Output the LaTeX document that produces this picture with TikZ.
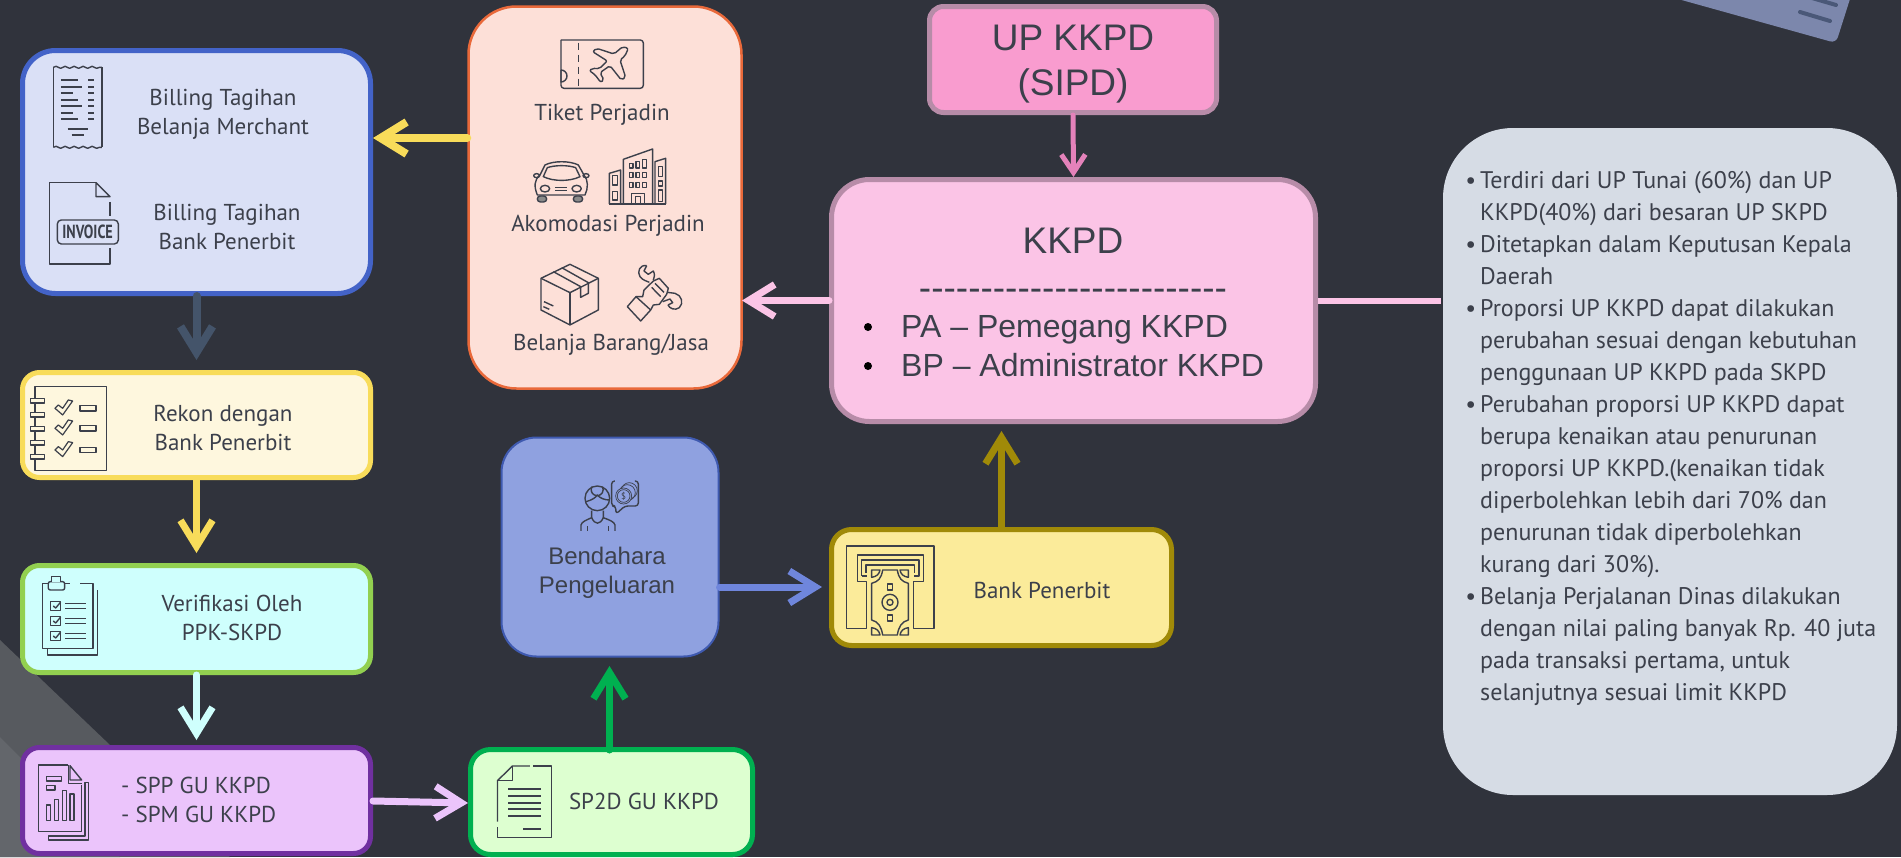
\documentclass[tikz,border=0pt]{standalone}
\usepackage{fontspec}
\setmainfont{PT Sans}
\newfontfamily\arialfont{Liberation Sans}[Ligatures=NoCommon]
\usepackage{tikz}
\usetikzlibrary{arrows.meta,decorations.pathmorphing}

\definecolor{col_bg}{HTML}{30333C}
\definecolor{col_text}{HTML}{3C404B}
\definecolor{col_pink}{HTML}{FBC4E6}
\definecolor{col_band}{HTML}{575A5F}
\definecolor{col_bandb}{HTML}{63666B}
\definecolor{col_card}{HTML}{7C87AC}
\definecolor{col_cardline}{HTML}{4A5878}
\definecolor{col_note}{HTML}{D6DCE5}
\definecolor{col_blue}{HTML}{4363C8}
\definecolor{col_bluef}{HTML}{DAE0F6}
\definecolor{col_yellow}{HTML}{F8DC5A}
\definecolor{col_yellowf}{HTML}{FEF7DE}
\definecolor{col_lime}{HTML}{92D050}
\definecolor{col_cyan}{HTML}{CFFFFD}
\definecolor{col_purple}{HTML}{7030A0}
\definecolor{col_purplef}{HTML}{EBC4FB}
\definecolor{col_green}{HTML}{00B050}
\definecolor{col_greenf}{HTML}{DDFFD0}
\definecolor{col_indigo}{HTML}{3F5AB0}
\definecolor{col_indigof}{HTML}{8FA1E0}
\definecolor{col_orange}{HTML}{E9693A}
\definecolor{col_orangef}{HTML}{FDE0D8}
\definecolor{col_olive}{HTML}{A08A08}
\definecolor{col_olivef}{HTML}{FBEB9A}
\definecolor{col_mauve}{HTML}{B78CA8}
\definecolor{col_rose}{HTML}{F99CCF}
\definecolor{col_slate}{HTML}{44546A}
\definecolor{col_bluea}{HTML}{6F86DC}
\definecolor{col_rosea}{HTML}{E482BA}
\definecolor{col_tyre}{HTML}{8A8A8A}
\newcommand{\noteb}{\llap{\textbullet\hspace{4pt}}}

\begin{document}
\begin{tikzpicture}[x=1pt, y=-1pt,
		node_style/.style={rectangle,minimum width=348pt,minimum height=106pt,rounded corners=17pt,line width=5pt,inner sep=0pt},
		text_style/.style={text=col_text,inner sep=0pt,align=center,font=\fontsize{23}{29}\selectfont},
		arial_style/.style={text=col_text,inner sep=0pt,align=center,font=\arialfont\fontsize{24}{29}\selectfont},
		edge_style/.style={draw=#1,line cap=round,line join=miter,-{Straight Barb[length=26pt,width=32pt]}},
		icon_style/.style={draw=col_text,line width=1.4pt,line join=round},
		zoom_a/.style={shift={(460,0)},x=.3333pt,y=-.3333pt},
		zoom_b/.style={shift={(0,30)},x=.3333pt,y=-.3333pt},
		zoom_c/.style={shift={(480,420)},x=.3333pt,y=-.3333pt},
		zoom_d/.style={shift={(820,420)},x=.3333pt,y=-.3333pt}]

		\useasboundingbox (0,0) rectangle (1901,857);
		\fill[col_bg] (0,0) rectangle (1901,857);
		\fill[col_band] (0,640) -- (110,745) -- (230,857) -- (0,857) -- cycle;
		\fill[col_bandb] (0,737) -- (120,857) -- (0,857) -- cycle;
		\fill[col_card, rounded corners=6pt] (1660,-6) -- (1836,43) -- (1856,-20) -- (1660,-20) -- cycle;
		\draw[col_cardline, line width=4pt, line cap=round] (1800,12) -- (1830,21);
		\draw[col_cardline, line width=4pt, line cap=round] (1812,-2) -- (1836,5);

		% connectors first, the boxes lie over their ends
		\coordinate (c0) at (0,138);
		\coordinate (c1) at (0,300.5);
		\node[node_style,minimum width=454pt,minimum height=667pt,rounded corners=70pt,fill=col_note] (n12) at (1670,461.5) {};

		\node[node_style,minimum height=243pt,rounded corners=33pt,draw=col_blue,fill=col_bluef] (n0) at (196.5,172) {};
		\node[node_style,minimum height=105pt,draw=col_yellow,fill=col_yellowf] (n1) at (196.5,425) {};
		\node[node_style,minimum height=107pt,draw=col_lime,fill=col_cyan] (n2) at (196.5,619) {};
		\node[node_style,draw=col_purple,fill=col_purplef] (n3) at (196.5,800.5) {};
		\node[node_style,minimum width=282pt,minimum height=105pt,rounded corners=20pt,draw=col_green,fill=col_greenf] (n4) at (611.5,802) {};
		\node[node_style,minimum width=217pt,minimum height=219pt,rounded corners=35pt,line width=2pt,draw=col_indigo,fill=col_indigof] (n5) at (610,547) {};
		\node[node_style,minimum width=273pt,minimum height=382pt,rounded corners=48pt,line width=2.5pt,draw=col_orange,fill=col_orangef] (n6) at (605,197.5) {};
		\node[node_style,minimum width=340pt,minimum height=116pt,rounded corners=20pt,draw=col_olive,fill=col_olivef] (n7) at (1001.5,587.5) {};
		\node[node_style,minimum width=484pt,minimum height=242pt,rounded corners=38pt,draw=col_mauve,fill=col_pink] (n8) at (1073.5,300.5) {};
		\node[node_style,minimum width=287pt,minimum height=106pt,rounded corners=14pt,draw=col_mauve,fill=col_rose] (n9) at (1073,59.5) {};

		\draw[edge_style=col_yellow,line width=8pt] (n6.west |- c0) -- (373,138);
		\draw[edge_style=col_slate,line width=8pt] (n0.south) -- (196.5,360);
		\draw[edge_style=col_yellow,line width=7pt] (n1.south) -- (196.5,553);
		\draw[edge_style=col_cyan,line width=7pt] (n2.south) -- (196.5,740);
		\draw[edge_style=col_purplef,line width=7pt] (n3.east |- 0,801) -- (n4.west |- 0,803);
		\draw[edge_style=col_green,line width=7pt] (609.5,750) -- (609.5,666);
		\draw[edge_style=col_bluea,line width=7pt] (n5.east |- 0,587) -- (822,587);
		\draw[edge_style=col_olive,line width=7pt] (n7.north) -- (1001.5,431);
		\draw[edge_style=col_pink,line width=7pt] (n8.west |- c1) -- (742,300.5);
		\draw[edge_style=col_rosea,line width=5pt,-{Straight Barb[length=18pt,width=24pt]}] (n9.south) -- (n8.north);
		\draw[draw=col_pink,line width=6pt] (n8.east |- c1) -- (n12.west |- c1);

		% texts
		\node[text_style] (t0) at (223,114) {Billing Tagihan\\Belanja Merchant};
		\node[text_style] (t1) at (227,226.5) {Billing Tagihan\\Bank Penerbit};
		\node[text_style] (t2) at (223,428) {Rekon dengan\\Bank Penerbit};
		\node[text_style] (t3) at (232,618) {Verifikasi Oleh\\PPK-SKPD};
		\node[text_style,align=left,anchor=west] (t4) at (121,800) {- SPP GU KKPD\\- SPM GU KKPD};
		\node[text_style] (t5) at (644,801) {SP2D GU KKPD};
		\node[text_style] (t6) at (602,114.5) {Tiket Perjadin};
		\node[text_style] (t7) at (608,226) {Akomodasi Perjadin};
		\node[text_style] (t8) at (611,344.5) {Belanja Barang/Jasa};
		\node[arial_style] (t9) at (607,573) {Bendahara\\Pengeluaran};
		\node[text_style] (t10) at (1042,590) {Bank Penerbit};
		\node[arial_style,font=\arialfont\fontsize{37}{45}\selectfont] (t11) at (1073,64) {UP KKPD\\(SIPD)};
		\node[arial_style,font=\arialfont\fontsize{37}{37}\selectfont] (t12) at (1073,241) {KKPD};
		\node[arial_style,font=\arialfont\fontsize{37}{37}\selectfont] (t13) at (1073,295) {{-}{-}{-}{-}{-}{-}{-}{-}{-}{-}{-}{-}{-}{-}{-}{-}{-}{-}{-}{-}{-}{-}{-}{-}{-}};
		\node[arial_style,anchor=west,align=left,font=\arialfont\fontsize{32}{39}\selectfont] (t14) at (901,346.5) {PA – Pemegang KKPD\\BP – Administrator KKPD};
		\node[fill=black,circle,inner sep=0pt,minimum size=8pt] (b0) at (868,327) {};
		\node[fill=black,circle,inner sep=0pt,minimum size=8pt] (b1) at (868,366) {};
		\node[text_style,anchor=north west,align=left,font=\fontsize{24}{32}\selectfont] (t15) at (1480,171) {\noteb Terdiri dari UP Tunai (60\%) dan UP\\
			KKPD(40\%) dari besaran UP SKPD\\
			\noteb Ditetapkan dalam Keputusan Kepala\\
			Daerah\\
			\noteb Proporsi UP KKPD dapat dilakukan\\
			perubahan sesuai dengan kebutuhan\\
			penggunaan UP KKPD pada SKPD\\
			\noteb Perubahan proporsi UP KKPD dapat\\
			berupa kenaikan atau penurunan\\
			proporsi UP KKPD.(kenaikan tidak\\
			diperbolehkan lebih dari 70\% dan\\
			penurunan tidak diperbolehkan\\
			kurang dari 30\%).\\
			\noteb Belanja Perjalanan Dinas dilakukan\\
			dengan nilai paling banyak Rp. 40 juta\\
			pada transaksi pertama, untuk\\
			selanjutnya sesuai limit KKPD};

		% receipt
		\begin{scope}[zoom_b]
			\draw[icon_style,decorate,decoration={snake,amplitude=1pt,segment length=9pt}] (160,112) -- (306,112);
			\draw[icon_style,decorate,decoration={snake,amplitude=1pt,segment length=9pt}] (160,352) -- (306,352);
			\draw[icon_style] (160,112) -- (160,352);
			\draw[icon_style] (306,112) -- (306,352);
			\foreach \y/\e in {150/233,170/245,190/220,210/233,229/247,249/220,268/233} {
				\draw[icon_style,line width=2pt] (183,\y) -- (\e,\y);
				\draw[icon_style,line width=2pt] (265,\y) -- (282,\y);
			}
			\draw[icon_style,line width=2pt] (203,296) -- (264,296);
			\draw[icon_style,line width=2pt] (215,316) -- (252,316);
		\end{scope}
		% invoice
		\begin{scope}[zoom_b]
			\draw[icon_style] (288,458) -- (148,458) -- (148,702) -- (330,702) -- (330,655);
			\draw[icon_style] (330,516) -- (330,558);
			\draw[icon_style] (288,458) -- (330,500) -- (288,500) -- cycle;
			\draw[icon_style,rounded corners=4pt] (172,570) rectangle (355,642);
			\node[inner sep=0pt,text=col_text,xscale=.75,font=\bfseries\fontsize{19}{19}\selectfont] (i0) at (263,606) {INVOICE};
		\end{scope}
		% checklist
		\begin{scope}[zoom_b]
			\draw[icon_style] (105,1070) rectangle (320,1322);
			\foreach \y in {1112,1154,1196,1238,1280} {
				\draw[icon_style,fill=col_yellowf] (92,\y-7) rectangle (133,\y+7);
			}
			\foreach \y in {1135,1195,1260} {
				\draw[icon_style,line width=1.2pt] (165,\y) -- (188,\y+20) -- (218,\y-22) -- (205,\y-25) -- (188,\y) -- (175,\y-10) -- cycle;
				\draw[icon_style] (240,\y-8) rectangle (288,\y+8);
			}
		\end{scope}
		% clipboard
		\begin{scope}[shift={(0,540)},x=.4975pt,y=-.3333pt]
			\draw[icon_style] (97,130) -- (85,130) -- (85,325) -- (187,325) -- (187,130) -- (160,130);
			\draw[icon_style] (140,130) -- (130,130);
			\draw[icon_style,fill=col_cyan,rounded corners=2pt] (97,125) rectangle (130,150);
			\draw[icon_style,fill=col_cyan] (104,125) -- (104,110) -- (122,110) -- (122,125);
			\draw[icon_style] (196,150) -- (196,345) -- (95,345) -- (95,325);
			\foreach \y in {198,243,288} {
				\draw[icon_style] (101,\y-14) rectangle (122,\y+14);
				\draw[icon_style] (107,\y) -- (112,\y+6) -- (122,\y-12);
				\draw[icon_style] (131,\y-7) -- (172,\y-7);
				\draw[icon_style] (131,\y+7) -- (172,\y+7);
			}
		\end{scope}
		% report
		\begin{scope}[shift={(0,620)},x=.3333pt,y=-.3333pt]
			\draw[icon_style] (205,435) -- (115,435) -- (115,635) -- (245,635) -- (245,495);
			\draw[icon_style] (205,435) -- (205,490) -- (245,490);
			\draw[icon_style] (210,437) -- (245,480) -- (210,480) -- cycle;
			\draw[icon_style] (265,488) -- (265,660) -- (145,660) -- (145,648) -- (255,648) -- (255,488) -- cycle;
			\draw[icon_style] (140,470) rectangle (185,483);
			\draw[icon_style] (140,497) rectangle (165,510);
			\foreach \x/\t in {140/555,163/538,187/512,210/522} {
				\draw[icon_style] (\x,\t) rectangle (\x+12,602);
			}
		\end{scope}
		% document
		\begin{scope}[shift={(0,540)},x=.4975pt,y=-.3333pt]
			\draw[icon_style] (1065,678) -- (1030,678) -- (1000,722) -- (1000,845);
			\draw[icon_style] (1030,678) -- (1030,722) -- (1000,722);
			\draw[icon_style] (1072,678) -- (1108,678) -- (1108,893) -- (1000,893) -- (1000,860);
			\foreach \y in {748,768,788,808,828} {
				\draw[icon_style,line width=1.8pt] (1022,\y) -- (1087,\y);
			}
			\draw[icon_style,line width=1.8pt] (1052,866) -- (1087,866);
		\end{scope}
		% ticket, plane
		\begin{scope}[zoom_a]
			\draw[icon_style,rounded corners=3pt] (303,120) -- (550,120) -- (550,265) -- (303,265) -- (303,210);
			\draw[icon_style] (303,210) arc[start angle=-90,end angle=90,radius=18] -- (303,120);
			\draw[icon_style,dashed,dash pattern=on 7pt off 5pt,line width=1.6pt] (355,128) -- (355,262);
			\draw[icon_style,rounded corners=2pt] (505,145) -- (495,168) -- (480,180) -- (497,232) -- (484,240) -- (450,197) -- (420,218) -- (432,240) -- (422,247) -- (405,224) -- (388,212) -- (397,205) -- (418,206) -- (442,183) -- (398,155) -- (410,145) -- (462,162) -- (488,140) -- cycle;
		\end{scope}
		% car, building
		\begin{scope}[zoom_a]
			\draw[icon_style] (232,585) .. controls (222,560) and (222,540) .. (240,525) -- (255,495) .. controls (280,482) and (330,482) .. (355,495) -- (372,525) .. controls (385,540) and (385,565) .. (375,585) -- cycle;
			\draw[icon_style] (250,530) -- (262,503) .. controls (285,495) and (325,495) .. (347,503) -- (360,530) .. controls (330,545) and (280,545) .. (250,530) -- cycle;
			\draw[icon_style] (230,527) ellipse[x radius=9,y radius=6];
			\draw[icon_style] (378,527) ellipse[x radius=9,y radius=6];
			\draw[icon_style] (255,566) ellipse[x radius=14,y radius=10];
			\draw[icon_style] (350,566) ellipse[x radius=14,y radius=10];
			\draw[icon_style] (285,563) -- (322,563);
			\draw[icon_style] (285,572) -- (322,572);
			\draw[icon_style,rounded corners=3pt,fill=col_tyre] (232,588) rectangle (260,606);
			\draw[icon_style,rounded corners=3pt,fill=col_tyre] (340,588) rectangle (368,606);
			\draw[icon_style] (490,612) -- (490,478) -- (578,447) -- (578,612);
			\draw[icon_style] (448,612) -- (448,520) -- (482,510) -- (482,612);
			\draw[icon_style] (585,612) -- (585,485) -- (617,475) -- (617,612);
			\draw[icon_style] (448,612) -- (617,612);
			\foreach \x in {508,528,548} {
				\foreach \y in {518,548} {
					\draw[icon_style] (\x,\y) rectangle (\x+11,\y+14);
				}
			}
			\draw[icon_style] (508,490) rectangle (519,504);
			\draw[icon_style] (528,484) rectangle (539,504);
			\draw[icon_style] (548,478) rectangle (559,504);
			\draw[icon_style] (515,612) -- (515,580) -- (553,580) -- (553,612);
			\draw[icon_style] (527,612) -- (527,590) -- (541,590) -- (541,612);
			\draw[icon_style] (458,527) rectangle (472,555);
			\draw[icon_style] (458,575) rectangle (472,600);
			\draw[icon_style] (596,500) rectangle (608,530);
			\draw[icon_style] (596,543) rectangle (608,558);
			\draw[icon_style] (596,570) rectangle (608,605);
		\end{scope}
		% box
		\begin{scope}[zoom_a]
			\draw[icon_style] (243,835) -- (330,793) -- (415,835) -- (415,930) -- (330,975) -- (243,930) -- cycle;
			\draw[icon_style] (243,835) -- (330,878) -- (415,835);
			\draw[icon_style] (330,878) -- (330,975);
			\draw[icon_style] (280,815) -- (362,860) -- (362,892) -- (385,880) -- (385,848) -- (305,803);
			\draw[icon_style] (252,905) -- (280,918);
			\draw[icon_style] (250,920) -- (268,928);
		\end{scope}
		% wrench
		\begin{scope}[shift={(620,255)},x=.3333pt,y=-.3333pt]
			\draw[icon_style] (22,155) -- (48,125) -- (92,165) -- (62,198) -- cycle;
			\draw[icon_style] (48,125) -- (68,125) -- (72,105) -- (100,78) -- (118,70) -- (145,100) -- (140,118) -- (118,148) -- (100,150) -- (92,165);
			\draw[icon_style] (105,85) -- (132,112);
			\draw[icon_style] (95,97) -- (122,125);
			\draw[icon_style] (80,32) .. controls (60,28) and (50,50) .. (60,65) .. controls (68,76) and (80,78) .. (88,82);
			\draw[icon_style] (80,32) -- (72,48) -- (85,58) -- (100,48) .. controls (105,58) and (104,66) .. (100,75);
			\draw[icon_style] (142,112) -- (165,115) .. controls (185,120) and (192,145) .. (178,158) .. controls (165,168) and (148,160) .. (144,150);
			\draw[icon_style] (144,150) -- (158,143) -- (150,132) -- (128,140);
		\end{scope}
		% treasurer
		\begin{scope}[zoom_c]
			\draw[icon_style] (352,235) circle[radius=37];
			\draw[icon_style] (336,200) arc[start angle=210,end angle=-30,radius=18];
			\draw[icon_style] (318,245) .. controls (335,240) and (345,235) .. (352,225) .. controls (360,235) and (375,240) .. (388,240);
			\draw[icon_style] (303,333) -- (303,315) .. controls (305,305) and (320,300) .. (335,293) -- (335,272);
			\draw[icon_style] (405,333) -- (405,315) .. controls (403,305) and (388,300) .. (370,293) -- (370,272);
			\draw[icon_style] (335,293) .. controls (345,315) and (360,315) .. (370,293);
			\draw[icon_style] (322,333) -- (322,318);
			\draw[icon_style] (385,333) -- (385,318);
			\draw[icon_style,rounded corners=3pt] (405,183) -- (395,183) -- (395,258) -- (407,258) -- (408,282) -- (435,258) -- (475,258) -- (475,183) -- (465,183);
			\draw[icon_style,line width=.7pt] (448,212) circle[radius=24];
			\draw[icon_style,line width=.7pt] (442,218) circle[radius=24];
			\draw[icon_style,fill=col_indigof,line width=.7pt] (431,228) circle[radius=24];
			\draw[icon_style,line width=.7pt] (431,228) circle[radius=19];
			\node[inner sep=0pt,text=col_text,font=\fontsize{9}{9}\selectfont] (i1) at (431,228) {\$};
		\end{scope}
		% banknote
		\begin{scope}[zoom_d]
			\draw[icon_style] (140,625) -- (80,625) -- (80,378) -- (342,378) -- (342,625) -- (280,625) -- (280,485) -- (310,485) -- (310,405) -- (112,405) -- (112,485) -- (140,485) -- cycle;
			\draw[icon_style] (125,468) -- (125,420) -- (297,420) -- (297,468) -- (283,468);
			\draw[icon_style] (125,468) -- (140,468);
			\draw[icon_style] (138,458) -- (138,435) -- (283,435) -- (283,458);
			\draw[icon_style,fill=col_olivef] (188,450) -- (232,450) .. controls (236,475) and (245,485) .. (265,490) -- (265,600) .. controls (245,605) and (236,620) .. (232,645) -- (188,645) .. controls (184,620) and (175,605) .. (155,600) -- (155,490) .. controls (175,485) and (184,475) .. cycle;
			\draw[icon_style] (155,450) -- (180,450) .. controls (178,462) and (170,470) .. (155,472) -- cycle;
			\draw[icon_style] (265,450) -- (240,450) .. controls (242,462) and (250,470) .. (265,472) -- cycle;
			\draw[icon_style] (155,645) -- (180,645) .. controls (178,633) and (170,625) .. (155,623) -- cycle;
			\draw[icon_style] (265,645) -- (240,645) .. controls (242,633) and (250,625) .. (265,623) -- cycle;
			\draw[icon_style] (210,547) circle[radius=24];
			\draw[icon_style] (210,547) circle[radius=9];
			\draw[icon_style] (202,492) rectangle (218,510);
			\draw[icon_style] (202,585) rectangle (218,603);
		\end{scope}

\end{tikzpicture}
\end{document}
